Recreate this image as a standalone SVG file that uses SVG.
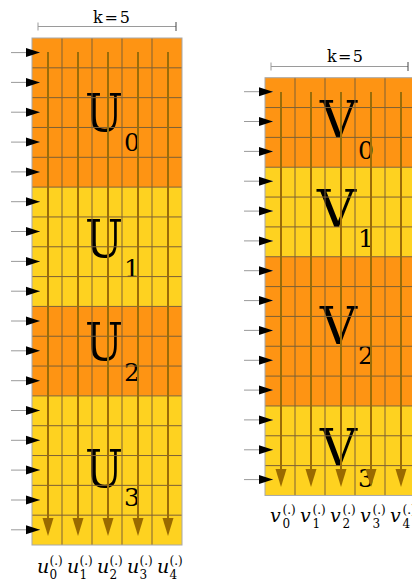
<svg xmlns="http://www.w3.org/2000/svg" width="412" height="585" viewBox="0 0 412 585" font-family="'DejaVu Serif', serif">
<style>
.or{fill:#fe9413}
.ye{fill:#fed220}
.grid{stroke:#7d6036;stroke-width:1;fill:none}
.border{stroke:#a8a8a8;stroke-width:1;fill:none}
text{font-family:'DejaVu Serif',serif;fill:#000}
.big{font-size:53px}
.sub{font-size:25px}
.k{font-size:16px}
.lab{font-style:italic;font-size:19px}
.ls{font-size:12px}
.dim{stroke:#9a9a9a;stroke-width:1}
.hin{stroke:#9a9a9a;stroke-width:1;marker-end:url(#blk)}
.vin{stroke:#9a6c08;stroke-width:2;marker-end:url(#brn)}
</style>
<defs>
<marker id="blk" markerUnits="userSpaceOnUse" markerWidth="15" markerHeight="10" refX="14" refY="4.5" orient="auto" overflow="visible">
<path d="M0,0 L14,4.5 L0,9 z" fill="#000"/>
</marker>
<marker id="brn" markerUnits="userSpaceOnUse" markerWidth="19" markerHeight="12" refX="12" refY="5.5" orient="auto" overflow="visible">
<path d="M0,0 L18,5.5 L0,11 z" fill="#9a6a00"/>
</marker>
</defs>

<g id="dimensions">
<line class="dim" x1="38" y1="26.5" x2="176" y2="26.5"/>
<line class="dim" x1="38" y1="22.5" x2="38" y2="30.5"/>
<line x1="176" y1="22" x2="176" y2="31" stroke="#444" stroke-width="1"/>
<text class="k" x="93" y="22.5" textLength="37" lengthAdjust="spacing">k=5</text>
<line class="dim" x1="271" y1="66.5" x2="408" y2="66.5"/>
<line class="dim" x1="271" y1="62.5" x2="271" y2="70.5"/>
<line x1="408" y1="62" x2="408" y2="71" stroke="#444" stroke-width="1"/>
<text class="k" x="327" y="62.3" textLength="36" lengthAdjust="spacing">k=5</text>
</g>

<g id="U0">
<rect class="or" x="32" y="38" width="150" height="149.12"/>
<text class="big" x="85" y="130.7" textLength="38" lengthAdjust="spacingAndGlyphs">U</text>
<text class="sub" x="124" y="150.7">0</text>
</g>
<g id="U1">
<rect class="ye" x="32" y="187.12" width="150" height="119.3"/>
<text class="big" x="85" y="257" textLength="38" lengthAdjust="spacingAndGlyphs">U</text>
<text class="sub" x="124" y="277">1</text>
</g>
<g id="U2">
<rect class="or" x="32" y="306.42" width="150" height="89.47"/>
<text class="big" x="85" y="360" textLength="38" lengthAdjust="spacingAndGlyphs">U</text>
<text class="sub" x="124" y="380.7">2</text>
</g>
<g id="U3">
<rect class="ye" x="32" y="395.89" width="150" height="149.11"/>
<text class="big" x="85" y="487" textLength="38" lengthAdjust="spacingAndGlyphs">U</text>
<text class="sub" x="124" y="506">3</text>
</g>

<g id="V0">
<rect class="or" x="265" y="77.7" width="150" height="89.52"/>
<text class="big" x="320" y="137.7" textLength="37" lengthAdjust="spacingAndGlyphs">V</text>
<text class="sub" x="358" y="159">0</text>
</g>
<g id="V1">
<rect class="ye" x="265" y="167.22" width="150" height="89.52"/>
<text class="big" x="317" y="226.7" textLength="39" lengthAdjust="spacingAndGlyphs">V</text>
<text class="sub" x="358" y="246.7">1</text>
</g>
<g id="V2">
<rect class="or" x="265" y="256.74" width="150" height="149.2"/>
<text class="big" x="320" y="344" textLength="37" lengthAdjust="spacingAndGlyphs">V</text>
<text class="sub" x="358" y="364">2</text>
</g>
<g id="V3">
<rect class="ye" x="265" y="405.94" width="150" height="89.52"/>
<text class="big" x="320" y="465.7" textLength="37" lengthAdjust="spacingAndGlyphs">V</text>
<text class="sub" x="358" y="487">3</text>
</g>

<g id="grid">
<path class="grid" d="M62,38V545 M92,38V545 M122,38V545 M152,38V545
M32,67.82H182 M32,97.65H182 M32,127.47H182 M32,157.3H182 M32,187.12H182 M32,216.94H182 M32,246.77H182 M32,276.59H182 M32,306.42H182 M32,336.24H182 M32,366.06H182 M32,395.89H182 M32,425.71H182 M32,455.54H182 M32,485.36H182 M32,515.18H182"/>
<rect class="border" x="32" y="38" width="150" height="507"/>
<path class="grid" d="M295,77.7V495.46 M325,77.7V495.46 M355,77.7V495.46 M385,77.7V495.46
M265,107.54H415 M265,137.38H415 M265,167.22H415 M265,197.06H415 M265,226.9H415 M265,256.74H415 M265,286.58H415 M265,316.42H415 M265,346.26H415 M265,376.1H415 M265,405.94H415 M265,435.78H415 M265,465.62H415"/>
<rect class="border" x="265" y="77.7" width="150" height="417.76"/>
</g>

<g id="connectors">
<line class="hin" x1="11" y1="52.6" x2="40" y2="52.6"/>
<line class="hin" x1="11" y1="82.4" x2="40" y2="82.4"/>
<line class="hin" x1="11" y1="112.2" x2="40" y2="112.2"/>
<line class="hin" x1="11" y1="142.1" x2="40" y2="142.1"/>
<line class="hin" x1="11" y1="171.9" x2="40" y2="171.9"/>
<line class="hin" x1="11" y1="201.7" x2="40" y2="201.7"/>
<line class="hin" x1="11" y1="231.5" x2="40" y2="231.5"/>
<line class="hin" x1="11" y1="261.4" x2="40" y2="261.4"/>
<line class="hin" x1="11" y1="291.2" x2="40" y2="291.2"/>
<line class="hin" x1="11" y1="321" x2="40" y2="321"/>
<line class="hin" x1="11" y1="350.8" x2="40" y2="350.8"/>
<line class="hin" x1="11" y1="380.7" x2="40" y2="380.7"/>
<line class="hin" x1="11" y1="410.5" x2="40" y2="410.5"/>
<line class="hin" x1="11" y1="440.3" x2="40" y2="440.3"/>
<line class="hin" x1="11" y1="470.1" x2="40" y2="470.1"/>
<line class="hin" x1="11" y1="500" x2="40" y2="500"/>
<line class="hin" x1="11" y1="529.8" x2="40" y2="529.8"/>

<line class="hin" x1="244" y1="91.7" x2="273" y2="91.7"/>
<line class="hin" x1="244" y1="121.5" x2="273" y2="121.5"/>
<line class="hin" x1="244" y1="151.4" x2="273" y2="151.4"/>
<line class="hin" x1="244" y1="181.2" x2="273" y2="181.2"/>
<line class="hin" x1="244" y1="211.1" x2="273" y2="211.1"/>
<line class="hin" x1="244" y1="240.9" x2="273" y2="240.9"/>
<line class="hin" x1="244" y1="270.7" x2="273" y2="270.7"/>
<line class="hin" x1="244" y1="300.6" x2="273" y2="300.6"/>
<line class="hin" x1="244" y1="330.4" x2="273" y2="330.4"/>
<line class="hin" x1="244" y1="360.3" x2="273" y2="360.3"/>
<line class="hin" x1="244" y1="390.1" x2="273" y2="390.1"/>
<line class="hin" x1="244" y1="419.9" x2="273" y2="419.9"/>
<line class="hin" x1="244" y1="449.8" x2="273" y2="449.8"/>
<line class="hin" x1="244" y1="479.6" x2="273" y2="479.6"/>

<line class="vin" x1="48" y1="52" x2="48" y2="530"/>
<line class="vin" x1="78" y1="52" x2="78" y2="530"/>
<line class="vin" x1="108" y1="52" x2="108" y2="530"/>
<line class="vin" x1="138" y1="52" x2="138" y2="530"/>
<line class="vin" x1="168" y1="52" x2="168" y2="530"/>

<line class="vin" x1="281" y1="92" x2="281" y2="481"/>
<line class="vin" x1="311" y1="92" x2="311" y2="481"/>
<line class="vin" x1="341" y1="92" x2="341" y2="481"/>
<line class="vin" x1="371" y1="92" x2="371" y2="481"/>
<line class="vin" x1="401" y1="92" x2="401" y2="481"/>
</g>

<g id="labels">
<text class="lab" x="37" y="573">u</text><text class="ls" x="49.5" y="565">(.)</text><text class="ls" x="49.5" y="579">0</text>
<text class="lab" x="67" y="573">u</text><text class="ls" x="79.5" y="565">(.)</text><text class="ls" x="79.5" y="579">1</text>
<text class="lab" x="97" y="573">u</text><text class="ls" x="109.5" y="565">(.)</text><text class="ls" x="109.5" y="579">2</text>
<text class="lab" x="127" y="573">u</text><text class="ls" x="139.5" y="565">(.)</text><text class="ls" x="139.5" y="579">3</text>
<text class="lab" x="157" y="573">u</text><text class="ls" x="169.5" y="565">(.)</text><text class="ls" x="169.5" y="579">4</text>

<text class="lab" x="270" y="522">v</text><text class="ls" x="282.5" y="514">(.)</text><text class="ls" x="282.5" y="527.5">0</text>
<text class="lab" x="300" y="522">v</text><text class="ls" x="312.5" y="514">(.)</text><text class="ls" x="312.5" y="527.5">1</text>
<text class="lab" x="330" y="522">v</text><text class="ls" x="342.5" y="514">(.)</text><text class="ls" x="342.5" y="527.5">2</text>
<text class="lab" x="360" y="522">v</text><text class="ls" x="372.5" y="514">(.)</text><text class="ls" x="372.5" y="527.5">3</text>
<text class="lab" x="390" y="522">v</text><text class="ls" x="402.5" y="514">(.)</text><text class="ls" x="402.5" y="527.5">4</text>
</g>
</svg>
